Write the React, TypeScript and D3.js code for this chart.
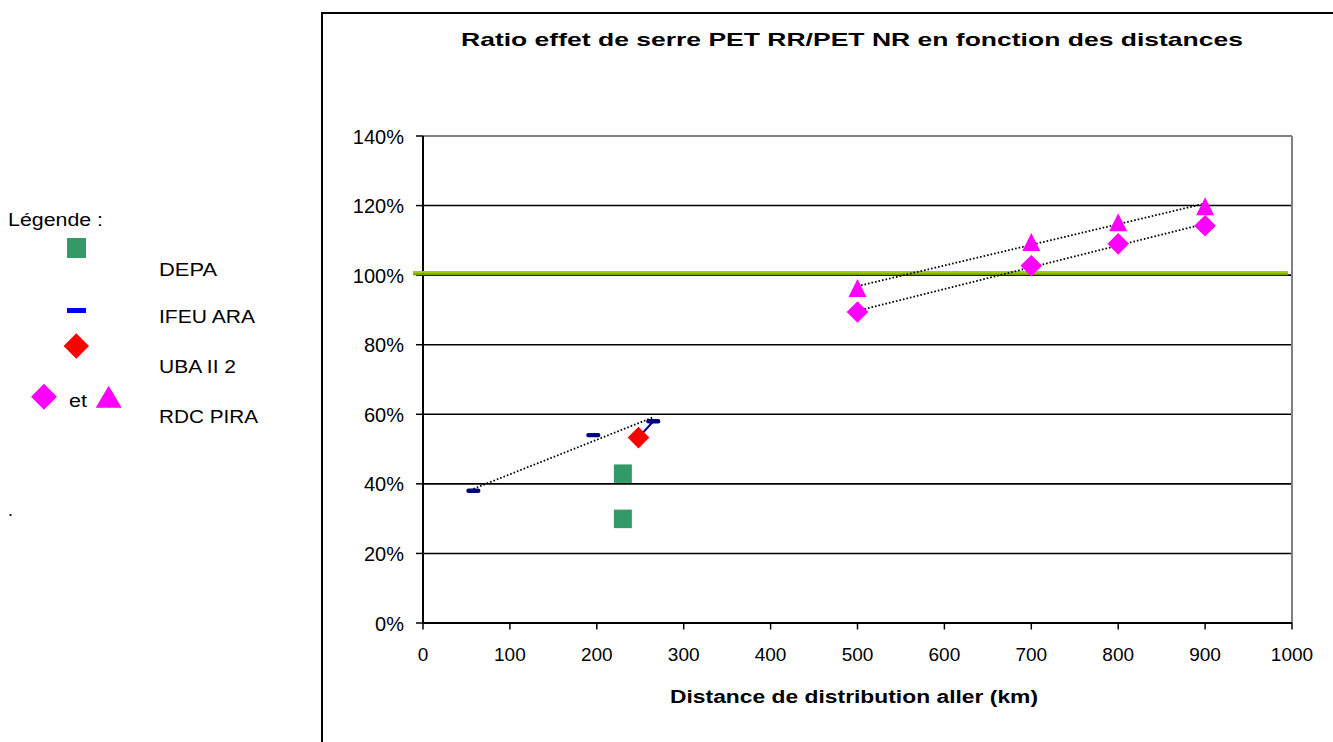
import React from "react";
import * as d3 from "d3";

const title = "Ratio effet de serre PET RR/PET NR  en fonction des distances";
const xTitle = "Distance de distribution aller (km)";
const xTicks = [0, 100, 200, 300, 400, 500, 600, 700, 800, 900, 1000];
const yTicks = [0, 0.2, 0.4, 0.6, 0.8, 1.0, 1.2, 1.4];

const depaX = [230, 230];
const depaY = [0.43, 0.30];
const ifeuX = [58, 196, 265];
const ifeuY = [0.38, 0.54, 0.58];
const ubaX = [248];
const ubaY = [0.533];
const piraX = [500, 700, 800, 900];
const piraDiamondY = [0.894, 1.027, 1.09, 1.142];
const piraTriangleY = [0.963, 1.095, 1.152, 1.198];
const referenceY = 1.0;

const legendItems = ["DEPA", "IFEU ARA", "UBA II 2", "RDC PIRA"];

const FONT = "'Liberation Sans', Arial, sans-serif";

function regression(xs: number[], ys: number[]) {
  const mx = d3.mean(xs)!;
  const my = d3.mean(ys)!;
  let sxy = 0, sxx = 0;
  xs.forEach((x, i) => { sxy += (x - mx) * (ys[i] - my); sxx += (x - mx) * (x - mx); });
  const slope = sxy / sxx;
  const x0 = d3.min(xs)!, x1 = d3.max(xs)!;
  return [[x0, my + slope * (x0 - mx)], [x1, my + slope * (x1 - mx)]];
}

export default function App() {
  const W = 1333, H = 742;
  const left = 423, right = 1292, top = 136, bottom = 623;
  const x = d3.scaleLinear().domain([0, 1000]).range([left, right]);
  const y = d3.scaleLinear().domain([0, 1.4]).range([bottom, top]);
  const line = d3.line<number[]>().x(d => x(d[0])).y(d => y(d[1]));

  const trends = [
    regression(ifeuX, ifeuY),
    regression(piraX, piraDiamondY),
    regression(piraX, piraTriangleY),
  ];

  const diamond = (cx: number, cy: number, r: number) =>
    `M${cx},${cy - r}L${cx + r},${cy}L${cx},${cy + r}L${cx - r},${cy}Z`;
  const triangle = (cx: number, cy: number, w: number, h: number) =>
    `M${cx},${cy - h / 2}L${cx + w / 2},${cy + h / 2}L${cx - w / 2},${cy + h / 2}Z`;

  const legendBaselines = [276, 323, 373, 423];
  const legendWidths = [58, 96, 77, 99];

  return (
    <svg width={W} height={H} style={{ position: "absolute", left: 0, top: 0, background: "#fff" }} fontFamily={FONT}>
      <rect x={0} y={0} width={W} height={H} fill="#fff" />
      {/* Chart frame */}
      <line x1={322} y1={13} x2={322} y2={H} stroke="#000" strokeWidth={2} />
      <line x1={321} y1={13} x2={W} y2={13} stroke="#000" strokeWidth={2} />

      {/* Title */}
      <text x={852} y={46} textAnchor="middle" fontSize={19} fontWeight="bold" textLength={782} lengthAdjust="spacingAndGlyphs">{title}</text>

      {/* Gridlines */}
      {yTicks.map(t => (
        <line key={"g" + t} x1={left} x2={right} y1={y(t)} y2={y(t)}
          stroke={t === 1.4 ? "#808080" : "#000"} strokeWidth={t === 1.4 ? 2 : 1.6} />
      ))}
      <line x1={right} x2={right} y1={top} y2={bottom} stroke="#808080" strokeWidth={2} />

      {/* Axes */}
      <line x1={left} x2={left} y1={top} y2={bottom} stroke="#000" strokeWidth={2} />
      <line x1={left} x2={right} y1={bottom} y2={bottom} stroke="#000" strokeWidth={2} />
      {yTicks.map(t => (
        <g key={"yt" + t}>
          <line x1={left - 7} x2={left} y1={y(t)} y2={y(t)} stroke="#000" strokeWidth={1.5} />
          <text x={404} y={y(t) + 7.5} textAnchor="end" fontSize={20}>{d3.format(".0%")(t)}</text>
        </g>
      ))}
      {xTicks.map(t => (
        <g key={"xt" + t}>
          <line x1={x(t)} x2={x(t)} y1={bottom} y2={bottom + 6.5} stroke="#000" strokeWidth={1.5} />
          <text x={x(t)} y={661} textAnchor="middle" fontSize={19}>{t}</text>
        </g>
      ))}
      <text x={854} y={703} textAnchor="middle" fontSize={18} fontWeight="bold" textLength={368} lengthAdjust="spacingAndGlyphs">{xTitle}</text>

      {/* Reference line 100% */}
      <line x1={413} x2={1288} y1={y(referenceY) - 3} y2={y(referenceY) - 3} stroke="#9acd00" strokeWidth={2.5} />
      <line x1={413} x2={1288} y1={y(referenceY) - 0.8} y2={y(referenceY) - 0.8} stroke="#7a9e00" strokeWidth={2} />

      {/* Trend lines */}
      {trends.map((tr, i) => (
        <path key={"tr" + i} d={line(tr)!} fill="none" stroke="#000" strokeWidth={1.8} strokeDasharray="1.6 2" />
      ))}

      {/* UBA to IFEU connector */}
      <path d={line([[ubaX[0], ubaY[0]], [ifeuX[2], ifeuY[2]]])!} stroke="#000080" strokeWidth={2} fill="none" />

      {/* DEPA */}
      {depaX.map((d, i) => (
        <rect key={"dp" + i} x={x(d) - 9} y={y(depaY[i]) - 9} width={18} height={18.5} fill="#339966" />
      ))}
      {/* IFEU */}
      {ifeuX.map((d, i) => (
        <rect key={"if" + i} x={x(d) - 7} y={y(ifeuY[i]) - 2.2} width={14} height={4.4} rx={2} fill="#000080" />
      ))}
      {/* UBA */}
      {ubaX.map((d, i) => (
        <path key={"ub" + i} d={diamond(x(d), y(ubaY[i]), 10.8)} fill="#ff0000" />
      ))}
      {/* PIRA */}
      {piraX.map((d, i) => (
        <path key={"pd" + i} d={diamond(x(d), y(piraDiamondY[i]), 10.8)} fill="#ff00ff" />
      ))}
      {piraX.map((d, i) => (
        <path key={"pt" + i} d={triangle(x(d), y(piraTriangleY[i]), 18, 18)} fill="#ff00ff" />
      ))}

      {/* Legend */}
      <text x={8} y={226} fontSize={18} textLength={95} lengthAdjust="spacingAndGlyphs">Légende :</text>
      <rect x={67} y={238} width={19} height={20} fill="#339966" />
      <rect x={67} y={308} width={19} height={5} fill="#0000ff" />
      <path d={diamond(76.3, 346, 12.7)} fill="#ff0000" />
      <path d={diamond(44, 396.7, 13)} fill="#ff00ff" />
      <text x={69} y={407} fontSize={18} textLength={18} lengthAdjust="spacingAndGlyphs">et</text>
      <path d={triangle(108.7, 396.7, 26, 22)} fill="#ff00ff" />
      {legendItems.map((l, i) => (
        <text key={l} x={159} y={legendBaselines[i]} fontSize={18} textLength={legendWidths[i]} lengthAdjust="spacingAndGlyphs">{l}</text>
      ))}
      <text x={8} y={516} fontSize={18}>.</text>
    </svg>
  );
}
